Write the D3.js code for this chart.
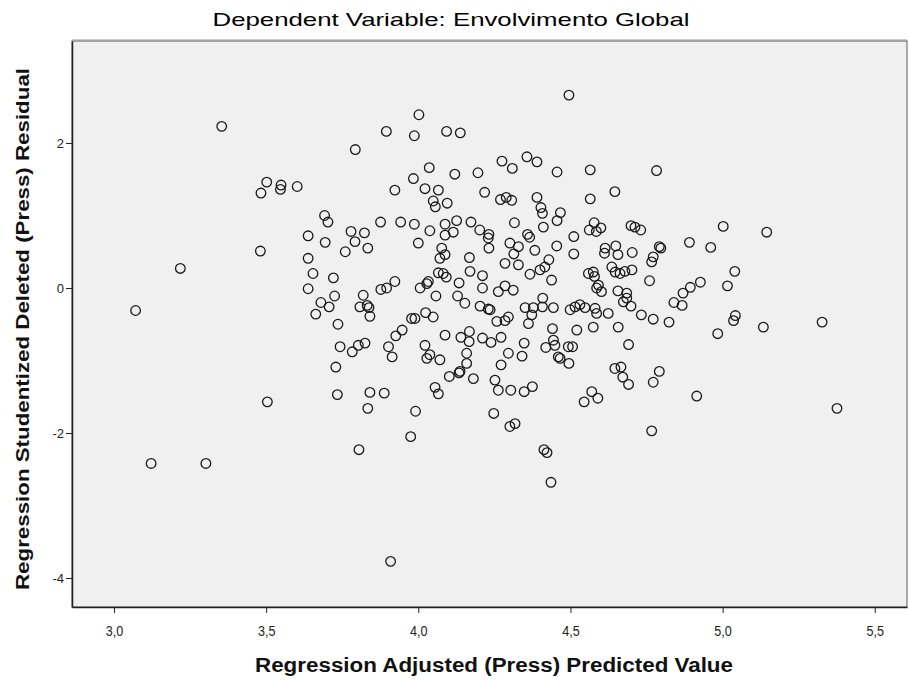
<!DOCTYPE html>
<html>
<head>
<meta charset="utf-8">
<script src="https://cdn.jsdelivr.net/npm/d3@7"></script>
<style>
  html, body { margin: 0; padding: 0; background: #ffffff; }
  svg { display: block; }
</style>
</head>
<body>
<div id="chart"></div>
<script>
// Adjusted (PRESS) predicted values, one per case
const predicted = [
  3.354, 3.502, 3.483, 3.549, 3.547, 3.602, 3.692, 3.703, 3.638, 3.694,
  3.481, 3.638, 3.760, 3.218, 3.654, 3.721, 3.638, 3.725, 3.680, 3.707,
  3.663, 3.071, 3.736, 3.743, 3.729, 3.734, 3.504, 3.122, 3.302,
  4.495, 4.002, 3.895, 3.987, 4.093, 4.138, 3.793, 4.036, 3.984, 4.120,
  4.196, 4.275, 4.309, 4.357, 4.390, 4.456, 4.565, 3.923, 4.022, 4.066,
  4.049, 4.056, 4.095, 4.218, 4.270, 4.289, 4.307, 4.390, 4.403, 4.408,
  4.467, 4.456, 4.565, 4.646, 3.876, 3.942, 3.987, 4.038, 4.088, 4.126,
  4.115, 4.088, 4.173, 4.202, 4.232, 4.316, 4.411, 4.359, 4.366, 4.511,
  4.562, 4.578, 4.600, 4.585, 3.779, 3.823,
  4.783, 4.699, 4.712, 4.731, 5.002, 5.145, 4.891, 4.961, 4.792, 4.797,
  4.703, 4.772, 4.767, 5.040, 4.702, 4.679, 4.760, 5.016, 4.927, 4.894,
  4.870, 4.840, 4.867, 4.685, 4.685, 4.674, 4.699, 4.733, 4.772, 4.824,
  5.042, 5.036, 4.984, 5.134, 5.327, 4.691, 4.792, 4.772, 4.915, 5.376,
  4.767,
  3.805, 3.975, 4.301, 4.318, 4.413, 4.423, 4.436, 3.909,
  3.792, 3.834, 4.000, 4.077, 4.088, 4.071, 4.230, 4.232, 4.168, 4.301,
  4.329, 4.383, 4.314, 4.455, 4.511, 4.614, 4.612, 4.649, 4.656, 4.285,
  4.329, 4.170, 4.211, 4.211, 4.066, 4.082, 4.092, 4.134, 4.028, 4.033,
  4.006, 4.058, 4.129, 4.153, 3.923, 3.896, 3.877, 3.819, 3.808, 3.832,
  3.838, 3.841, 4.263, 4.285, 4.312, 4.367, 4.400, 4.416, 4.429, 4.438,
  4.559, 4.575, 4.579, 4.592, 4.602, 4.586, 4.636, 4.647, 4.663, 4.656,
  4.409, 4.408, 4.444, 4.378, 4.351, 4.373, 4.362, 4.203, 4.230, 4.236,
  4.296, 4.285, 4.258, 4.024, 4.049, 3.989, 3.978, 4.499, 4.515, 4.531,
  4.548, 4.581, 4.586, 4.624, 4.575, 4.521, 4.441, 4.657, 3.947, 3.926,
  3.902, 3.914, 3.825, 3.803, 3.783, 4.088, 4.140, 4.168, 4.167, 4.211,
  4.239, 4.272, 4.348, 4.341, 4.296, 4.272, 4.419, 4.444, 4.449, 4.460,
  4.466, 4.493, 4.507, 4.495, 4.022, 4.038, 4.028, 4.071, 4.159, 4.159,
  4.134, 4.137, 4.102, 4.181, 4.252, 4.263, 4.304, 4.348, 4.375, 4.055,
  4.066, 3.841, 3.888, 3.834, 3.991, 4.248, 4.570, 4.545, 4.590, 4.646,
  4.666, 4.672, 4.691
];

// Studentized deleted (PRESS) residuals, same order as predicted
const residual = [
   2.23,  1.46,  1.31,  1.42,  1.36,  1.40,  1.00,  0.91,  0.72,  0.63,
   0.51,  0.41,  0.50,  0.27,  0.20,  0.14, -0.01, -0.11, -0.20, -0.26,
  -0.36, -0.31, -0.50, -0.81, -1.09, -1.47, -1.57, -2.42, -2.42,
   2.66,  2.39,  2.16,  2.10,  2.16,  2.14,  1.91,  1.66,  1.51,  1.57,
   1.59,  1.75,  1.65,  1.81,  1.74,  1.60,  1.63,  1.35,  1.37,  1.35,
   1.20,  1.12,  1.17,  1.32,  1.22,  1.25,  1.21,  1.25,  1.11,  1.03,
   1.04,  0.93,  1.23,  1.33,  0.91,  0.91,  0.88,  0.79,  0.88,  0.93,
   0.77,  0.73,  0.91,  0.80,  0.74,  0.90,  0.84,  0.74,  0.70,  0.71,
   0.80,  0.90,  0.83,  0.78,  0.78,  0.76,
   1.62,  0.86,  0.84,  0.80,  0.85,  0.77,  0.63,  0.56,  0.57,  0.55,
   0.49,  0.43,  0.36,  0.23,  0.25,  0.23,  0.10,  0.03,  0.08,  0.01,
  -0.07, -0.20, -0.24, -0.07, -0.14, -0.19, -0.25, -0.37, -0.43, -0.47,
  -0.38, -0.45, -0.63, -0.54, -0.47, -0.78, -1.15, -1.30, -1.49, -1.66,
  -1.97,
  -2.23, -2.05, -1.91, -1.87, -2.23, -2.27, -2.68, -3.77,
   0.64,  0.55,  0.62,  0.55,  0.46,  0.41,  0.69,  0.55,  0.42,  0.62,
   0.57,  0.52,  0.47,  0.58,  0.47,  0.55,  0.48,  0.58,  0.46,  0.34,
   0.32,  0.23,  0.17,  0.00,  0.21,  0.20,  0.15,  0.07,  0.06,  0.09,
   0.00, -0.11, -0.11, -0.21,  0.09,  0.00, -0.02, -0.10, -0.26, -0.24,
  -0.27, -0.39, -0.05,  0.03, -0.03,  0.19,  0.25,  0.29,  0.39,  0.11,
   0.20,  0.22,  0.16,  0.04, -0.05,  0.00,  0.29,  0.22,  0.20, -0.04,
  -0.14, -0.26, -0.27, -0.27, -0.27, -0.37, -0.49, -0.25, -0.29, -0.30,
  -0.40, -0.45, -0.46, -0.34, -0.40, -0.42, -0.42, -0.30, -0.26, -0.23,
  -0.27, -0.28, -0.35, -0.35, -0.54, -0.58, -0.56, -0.54, -0.58, -0.66,
  -0.81, -0.95, -0.76, -0.79, -0.88, -0.65, -0.68, -0.60, -0.74, -0.69,
  -0.75, -0.68, -0.76, -0.94, -0.90, -1.06, -0.82, -0.72, -0.79, -0.95,
  -0.97, -0.81, -0.81, -1.04, -0.79, -0.92, -0.97, -0.99, -0.90, -1.04,
  -1.17, -1.15, -1.22, -1.25, -1.27, -1.41, -1.41, -1.43, -1.36, -1.37,
  -1.46, -1.44, -1.45, -1.66, -1.70, -1.73, -1.43, -1.57, -1.52, -1.11,
  -1.09, -1.23, -1.33
];

const xTicks = [3.0, 3.5, 4.0, 4.5, 5.0, 5.5];
const yTicks = [-4, -2, 0, 2];

const titleText = "Dependent Variable: Envolvimento Global";
const xTitle = "Regression Adjusted (Press) Predicted Value";
const yTitle = "Regression Studentized Deleted (Press) Residual";

const W = 909, H = 682;
const plot = { left: 72, right: 907, top: 41, bottom: 607 };

const svg = d3.select("#chart").append("svg")
  .attr("width", W).attr("height", H);

const x = d3.scaleLinear().domain([2.862, 5.606]).range([plot.left, plot.right]);
const y = d3.scaleLinear().domain([-4.40, 3.407]).range([plot.bottom, plot.top]);

// plot background
svg.append("rect")
  .attr("x", plot.left).attr("y", plot.top)
  .attr("width", plot.right - plot.left).attr("height", plot.bottom - plot.top)
  .attr("fill", "#f0f0f0")
  .attr("stroke", "#5a5a5a").attr("stroke-width", 1);

// top frame line (doubled grey)
svg.append("line")
  .attr("x1", plot.left).attr("x2", plot.right)
  .attr("y1", plot.top - 1).attr("y2", plot.top - 1)
  .attr("stroke", "#9a9a9a").attr("stroke-width", 1);

const tickFont = "'Liberation Sans', Arial, sans-serif";

// x axis
const xAxis = svg.append("g")
  .attr("transform", `translate(0,${plot.bottom})`)
  .call(d3.axisBottom(x).tickValues(xTicks).tickSize(6).tickSizeOuter(0)
    .tickFormat(d => d3.format(".1f")(d).replace(".", ",")));
xAxis.select(".domain").attr("stroke", "#222").attr("stroke-width", 1.5);
xAxis.selectAll(".tick line").attr("stroke", "#222").attr("stroke-width", 1);
// narrow, tall tick labels centred under each tick
xAxis.selectAll(".tick text")
  .attr("fill", "#222")
  .attr("x", 0).attr("y", 0).attr("dy", null)
  .attr("dominant-baseline", "middle")
  .attr("transform", "translate(0,25) scale(0.9,1.1)")
  .style("font-family", tickFont).style("font-size", "14px");

// y axis
const yAxis = svg.append("g")
  .attr("transform", `translate(${plot.left},0)`)
  .call(d3.axisLeft(y).tickValues(yTicks).tickSize(6).tickSizeOuter(0)
    .tickFormat(d => String(d)));
yAxis.select(".domain").attr("stroke", "#222").attr("stroke-width", 1.5);
yAxis.selectAll(".tick line").attr("stroke", "#222").attr("stroke-width", 1);
yAxis.selectAll(".tick text")
  .attr("fill", "#222").attr("x", -8)
  .style("font-family", tickFont).style("font-size", "13px");

// points
const cases = predicted.map((p, i) => ({ p, r: residual[i] }));
svg.append("g")
  .selectAll("circle")
  .data(cases)
  .join("circle")
  .attr("cx", d => x(d.p))
  .attr("cy", d => y(d.r))
  .attr("r", 4.8)
  .attr("fill", "none")
  .attr("stroke", "#1a1a1a")
  .attr("stroke-width", 1.3);

// titles
svg.append("text")
  .attr("x", 451).attr("y", 26)
  .attr("text-anchor", "middle")
  .attr("textLength", 477)
  .attr("lengthAdjust", "spacingAndGlyphs")
  .style("font-family", "'Liberation Sans', Arial, sans-serif")
  .style("font-size", "19px")
  .style("font-weight", "500")
  .attr("fill", "#000")
  .text(titleText);

svg.append("text")
  .attr("x", 494).attr("y", 672)
  .attr("text-anchor", "middle")
  .attr("textLength", 478)
  .attr("lengthAdjust", "spacingAndGlyphs")
  .style("font-family", "'Liberation Sans', Arial, sans-serif")
  .style("font-size", "20px")
  .style("font-weight", "bold")
  .attr("fill", "#111")
  .text(xTitle);

svg.append("text")
  .attr("transform", `translate(29,329) rotate(-90)`)
  .attr("text-anchor", "middle")
  .attr("textLength", 522)
  .attr("lengthAdjust", "spacingAndGlyphs")
  .style("font-family", "'Liberation Sans', Arial, sans-serif")
  .style("font-size", "19px")
  .style("font-weight", "bold")
  .attr("fill", "#111")
  .text(yTitle);
</script>
</body>
</html>
